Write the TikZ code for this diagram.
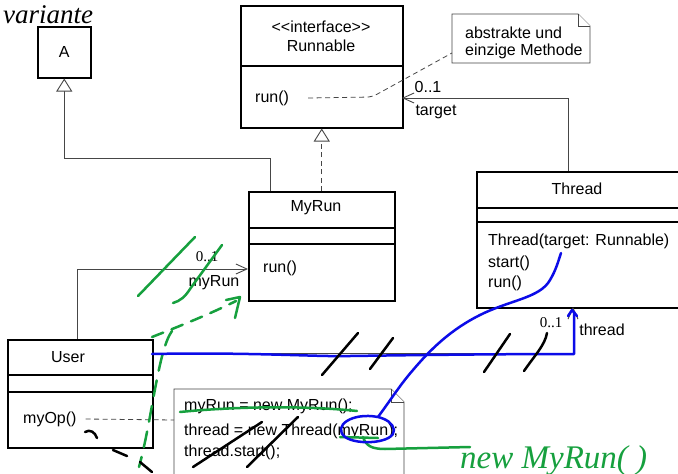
\documentclass[tikz,border=0pt]{standalone}
\usepackage{fontspec}
\setmainfont{Liberation Sans}
\newfontfamily\numfont{Liberation Serif}
\newfontfamily\handfont{Liberation Serif}
\usetikzlibrary{arrows.meta}

\definecolor{inkgreen}{RGB}{22,160,62}
\definecolor{inkblue}{RGB}{12,12,232}
\definecolor{linegray}{RGB}{70,70,70}

\begin{document}
\begin{tikzpicture}[x=1pt,y=-1pt,
  umlbox/.style={draw=black, line width=1.5pt, rectangle, inner sep=0pt, anchor=north west},
  txt/.style={font=\fontsize{16}{19}\selectfont, inner sep=0pt},
  mtxt/.style={txt, anchor=west},
  divider/.style={draw=black, line width=1.5pt},
  conn/.style={draw=linegray, line width=0.9pt},
  comment/.style={draw=linegray, line width=0.8pt, dash pattern=on 5pt off 3.5pt},
  notebox/.style={draw=linegray, line width=0.9pt, fill=white},
  opentip/.style={-{Straight Barb[length=11pt,width=10pt]}},
  inherit/.style={-{Triangle[length=13pt,width=16pt,fill=white]}},
  nmult/.style={font=\numfont\fontsize{15}{17}\selectfont, inner sep=0pt},
  pen/.style={line width=2.5pt, line cap=round, line join=round},
  hand/.style={font=\handfont\itshape, inner sep=0pt, anchor=base west}
]
\useasboundingbox (0,0) rectangle (678,474);
\clip (0,0) rectangle (678,474);
\fill[white] (0,0) rectangle (678,474);

% ---- class A ----
\node[umlbox, txt, minimum width=53pt, minimum height=51pt] (A) at (37,26) {A};

% ---- interface Runnable ----
\node[umlbox, minimum width=162pt, minimum height=122pt] (runnable) at (240,5) {};
\node[txt] (runstereo) at (321,27) {<\kern0pt<interface>\kern0pt>};
\node[txt] (runname) at (321,46) {Runnable};
\draw[divider] (240,66) -- (402,66);
\node[mtxt] (runop) at (255,98) {run()};

% ---- note on run() ----
\node[minimum width=138pt, minimum height=49pt, inner sep=0pt, anchor=north west] (note) at (452,14) {};
\draw[notebox] (452,14) -- (578,14) -- (590,26) -- (590,63) -- (452,63) -- cycle;
\draw[notebox] (578,14) -- (578,26) -- (590,26);
\node[mtxt] (notel1) at (465,33) {abstrakte und};
\node[mtxt] (notel2) at (465,51) {einzige Methode};
\coordinate (notein) at (452,53);
\draw[comment, rounded corners=5pt] ([xshift=19pt]runop.east) -- (372,97) -- (notein);

% ---- class MyRun ----
\node[umlbox, minimum width=146pt, minimum height=109pt] (myrun) at (248,191) {};
\node[txt] (myrunname) at (316,208) {MyRun};
\draw[divider] (248,228) -- (394,228);
\draw[divider] (248,244) -- (394,244);
\node[mtxt] (myrunop) at (263,268) {run()};

% ---- class Thread ----
\node[umlbox, minimum width=230pt, minimum height=136pt] (thread) at (476,171) {};
\node[txt] (threadname) at (577,189) {Thread};
\draw[divider] (476,208) -- (706,208);
\draw[divider] (476,222) -- (706,222);
\node[mtxt] (thrctor) at (488,241) {Thread(target: Runnable)};
\node[mtxt] (thrstart) at (488,263) {start()};
\node[mtxt] (thrrun) at (488,283) {run()};

% ---- class User ----
\node[umlbox, minimum width=145pt, minimum height=108pt] (user) at (7,339) {};
\node[txt] (username) at (68,357) {User};
\draw[divider] (7,375) -- (152,375);
\draw[divider] (9,392) -- (152,392);
\node[mtxt] (myop) at (23,419) {myOp()};

% ---- code note on myOp() ----
\node[minimum width=230pt, minimum height=100pt, inner sep=0pt, anchor=north west] (code) at (174,389) {};
\draw[notebox] (174,500) -- (174,389) -- (391,389) -- (404,402) -- (404,500);
\draw[notebox] (391,389) -- (391,402) -- (404,402);
\node[mtxt] (code1) at (184,406) {myRun = new MyRun();};
\node[mtxt] (code2) at (184,431) {thread = new Thread(myRun);};
\node[mtxt] (code3) at (184,452) {thread.start();};
\coordinate (codein) at (174,420);
\draw[comment] ([xshift=9pt]myop.east) -- (codein);

% ---- relations ----
\draw[conn, dash pattern=on 5pt off 3.5pt, inherit] (myrun.north) -- (runnable.south);
\coordinate (myrunA) at (270,191);
\draw[conn, inherit] (myrunA) -- (270,158) -| (A.south);

\coordinate (thrtop) at (568,171);
\coordinate (runtgt) at (402,98);
\draw[conn, opentip] (thrtop) |- (runtgt);
\node[txt] (tmult) at (428,87) {0..1};
\node[txt] (trole) at (436,112) {target};

\coordinate (usertop) at (77,339);
\coordinate (myrunin) at (248,269);
\draw[conn, opentip] (usertop) |- (myrunin);
\node[nmult] (rmult) at (207,257) {0..1};
\node[txt] (rrole) at (214,283) {myRun};

\coordinate (userright) at (152,353);
\coordinate (thrbot) at (573,307);
\draw[conn, opentip] (userright) -| (thrbot);
\node[nmult] (hmult) at (551,323) {0..1};
\node[txt] (hrole) at (602,330) {thread};

% ---- pen annotations ----
\node[hand, font=\handfont\itshape\fontsize{27}{27}\selectfont] (variante) at (3,23) {variante};
\node[hand, text=inkgreen, font=\handfont\itshape\fontsize{33}{33}\selectfont] (newmyrun) at (460,468) {new MyRun( )};

% green
\draw[pen, inkgreen] (138,296) -- (195,237);
\draw[pen, inkgreen] (173,303) .. controls (180,301) and (185,297) .. (190,289) -- (222,245);
\draw[pen, inkgreen, dash pattern=on 12pt off 9pt] (152,337) .. controls (180,326) and (210,314) .. (236,301);
\draw[pen, inkgreen] (226,300) -- (240,297) -- (235,318);
\draw[pen, inkgreen, dash pattern=on 16pt off 10pt] (172,331) .. controls (158,350) and (152,420) .. (139,467);
\draw[pen, inkgreen] (180,412) .. controls (230,407) and (300,405) .. (357,411);
\draw[pen, inkgreen] (340,437) -- (378,438);
\draw[pen, inkgreen] (363,437) .. controls (366,446) and (372,449) .. (385,449) -- (470,447);

% blue
\draw[pen, inkblue] (152,354) .. controls (250,352) and (320,357) .. (350,356) .. controls (420,355) and (500,354) .. (574,354) -- (574,312);
\draw[pen, inkblue] (568,316) -- (572,310) -- (577,316);
\draw[pen, inkblue] (378,417) .. controls (352,412) and (332,426) .. (345,437)
  .. controls (358,446) and (395,443) .. (394,430) .. controls (393,423) and (386,419) .. (378,417);
\draw[pen, inkblue] (378,417) .. controls (392,398) and (400,385) .. (413,370)
  .. controls (430,350) and (450,330) .. (480,315) .. controls (510,300) and (540,298) .. (550,280)
  .. controls (556,270) and (558,262) .. (561,253);

% black
\draw[pen, black] (322,375) -- (358,333);
\draw[pen, black] (370,369) -- (393,338);
\draw[pen, black] (484,372) -- (510,334);
\draw[pen, black] (524,371) .. controls (535,355) and (545,345) .. (547,333);
\draw[pen, black] (193,467) -- (262,422);
\draw[pen, black] (247,467) -- (298,417);
\draw[pen, black] (85,432) .. controls (90,429) and (95,432) .. (97,438);
\draw[pen, black] (113,450) -- (127,456);
\draw[pen, black] (140,462) -- (152,472);
\end{tikzpicture}
\end{document}
